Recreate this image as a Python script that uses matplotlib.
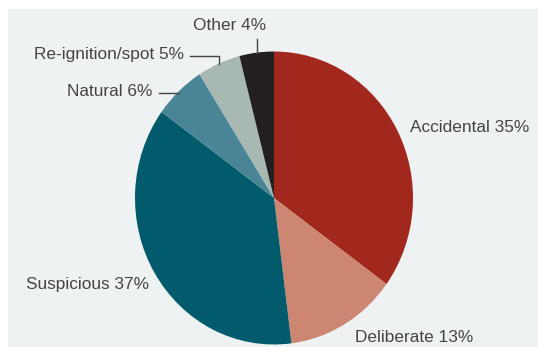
import numpy as np
import matplotlib
matplotlib.use("Agg")
import matplotlib.pyplot as plt
from matplotlib.patches import Rectangle

# causes of fire, clockwise from 12 o'clock
causes = ["Accidental", "Deliberate", "Suspicious", "Natural", "Re-ignition/spot", "Other"]
shares = [35, 13, 37, 6, 5, 4]
colours = ["#a2281d", "#cd8672", "#015b6d", "#498596", "#a8b9b4", "#231f20"]

plt.rcParams["font.family"] = ["Liberation Sans", "DejaVu Sans"]
plt.rcParams["font.size"] = 12.4

W, H = 538, 347
fig = plt.figure(figsize=(W / 100, H / 100), dpi=100)
fig.patch.set_facecolor("white")

# grey panel behind the chart
fig.patches.append(Rectangle((8 / W, 0), 1, 1 - 9 / H, transform=fig.transFigure,
                             facecolor="#eff2f2", edgecolor="none", zorder=-10))

# axes sized to the pie (slightly taller than wide, as in the original)
cx, cy, rx, ry = 274, 198, 139, 146.5
ax = fig.add_axes([(cx - rx) / W, (H - cy - ry) / H, 2 * rx / W, 2 * ry / H])
ax.set_facecolor("none")

wedges, _ = ax.pie(shares, colors=colours, startangle=90, counterclock=False,
                   wedgeprops=dict(linewidth=0))
ax.set_aspect("auto")
ax.set_xlim(-1, 1)
ax.set_ylim(-1, 1)
ax.axis("off")

def px(x, y):
    # pixel position -> data coords of the pie axes
    return (x - cx) / rx, (cy - y) / ry

def edge(i):
    # point on the rim at the middle of wedge i
    th = np.deg2rad((wedges[i].theta1 + wedges[i].theta2) / 2)
    return np.cos(th), np.sin(th)

labels = [f"{c} {s}%" for c, s in zip(causes, shares)]
tc = "#454545"
lc = "#444444"

# Accidental, Deliberate, Suspicious
ax.text(*px(410, 128), labels[0], ha="left", va="center", color=tc)
ax.text(*px(355, 337), labels[1], ha="left", va="center", color=tc)
ax.text(*px(149, 285), labels[2], ha="right", va="center", color=tc)

# Natural, with horizontal leader
ex, ey = edge(3)
ax.text(*px(152, 92), labels[3], ha="right", va="center", color=tc)
lx, ly = px(159, 93)
ax.plot([lx, ex], [ly, ly], color=lc, lw=1, clip_on=False)

# Re-ignition/spot, with elbow leader
ex, ey = edge(4)
ax.text(*px(184, 55), labels[4], ha="right", va="center", color=tc)
lx, ly = px(190, 56)
ax.plot([lx, ex, ex], [ly, ly, ey], color=lc, lw=1, clip_on=False)

# Other, with vertical leader
ex, ey = edge(5)
ax.text(*px(230, 26), labels[5], ha="center", va="center", color=tc)
lx, ly = px(0, 39)
ax.plot([ex, ex], [ly, ey], color=lc, lw=1, clip_on=False)

fig.savefig("out.png", dpi=100)
